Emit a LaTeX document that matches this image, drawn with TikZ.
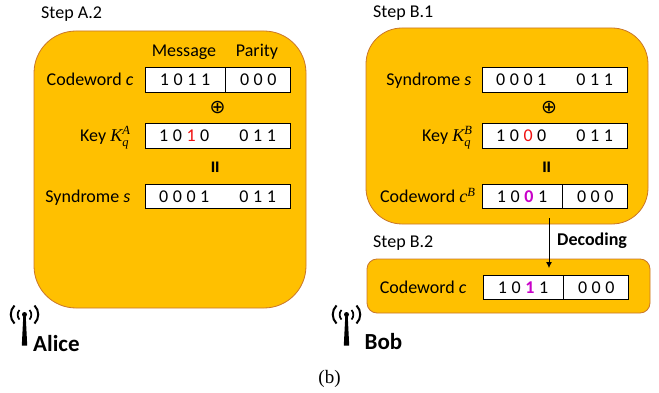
\documentclass[tikz,border=0pt]{standalone}
\usepackage{fontspec}
\setmainfont{Carlito}
\newfontfamily\capfont{Liberation Serif}
\newfontfamily\symfont{DejaVu Sans}
\newfontfamily\bitfam[WordSpace=1.13]{Carlito}
\usetikzlibrary{positioning,arrows.meta}
\definecolor{panelfill}{HTML}{FFC000}
\definecolor{paneledge}{HTML}{C9762A}
\definecolor{flipred}{HTML}{F01010}
\definecolor{flipmag}{HTML}{C800C8}
\tikzset{
	txt/.style={inner sep=0pt, font=\fontsize{18}{20}\selectfont},
	panel/.style={draw=paneledge, fill=panelfill, thick, inner sep=0pt},
	cell/.style={inner sep=0pt, font=\bitfam\fontsize{18}{20}\selectfont, draw=black, fill=white, thick, minimum height=24.5pt},
	whole/.style={cell, minimum width=145pt},
	msg/.style={cell, minimum width=80pt},
	parity/.style={cell, minimum width=65pt},
	xorsign/.style={inner sep=0pt, font=\symfont\fontsize{19}{20}\selectfont},
	eqsign/.style={inner sep=0pt, rotate=90, font=\fontsize{25}{26}\selectfont\bfseries},
	who/.style={inner sep=0pt, font=\fontsize{23}{26}\selectfont\bfseries},
	pics/antenna/.style={code={
		\fill (-2.7,0) -- (2.7,0) -- (1.2,-30) -- (-1.2,-30) -- cycle;
		\fill (0,-31) circle (2.5);
		\draw[line width=1.7pt] (-5,-35.5) .. controls (-7.5,-33) and (-7.5,-28.5) .. (-5,-26);
		\draw[line width=1.7pt] (5,-35.5) .. controls (7.5,-33) and (7.5,-28.5) .. (5,-26);
		\draw[line width=2pt] (-10,-40) .. controls (-15,-35) and (-15,-27) .. (-10,-22);
		\draw[line width=2pt] (10,-40) .. controls (15,-35) and (15,-27) .. (10,-22);
	}}
}
\newcommand{\gapbits}[2]{#1\hspace{30pt}#2}
\newcommand{\mi}[1]{\mbox{\capfont\itshape #1}}
\newcommand{\mis}[1]{\mbox{\capfont\itshape\fontsize{12.5}{13}\selectfont #1}}
\begin{document}
\begin{tikzpicture}[x=1pt, y=-1pt]
	\useasboundingbox (0,0) rectangle (659,393);

	% Alice
	\node [panel, rounded corners=42pt, minimum width=272pt, minimum height=277pt] (panelA) at (170,169.5) {};
	\node [txt, anchor=west] (stepA) at (41,14) {Step A.2};
	\node [txt] (headM) at (184,52) {Message};
	\node [txt] (headP) at (257,52) {Parity};
	\node [msg] (cm) at (185,80) {1 0 1 1};
	\node [parity, right=0pt of cm] (cp) {0 0 0};
	\node [xorsign] (xorA) at (217.5,108) {⊕};
	\node [whole] (kA) at (217.5,136) {\gapbits{1 0 \textcolor{flipred}{1} 0}{0 1 1}};
	\node [eqsign] (eqA) at (217.5,167) {=};
	\node [whole] (sA) at (217.5,196.5) {\gapbits{0 0 0 1}{0 1 1}};
	\node [txt, anchor=base east] (lcA) at ([xshift=-11pt]cm.base west) {Codeword \textit{c}};
	\node [txt, anchor=base east] (lkA) at ([xshift=-14pt]kA.base west) {Key $\mi{K}_{\mis{q}}^{\mis{A}}$};
	\node [txt, anchor=base east] (lsA) at ([xshift=-14pt]sA.base west) {Syndrome \textit{s}};

	% Bob
	\node [panel, rounded corners=36pt, minimum width=282pt, minimum height=196pt] (panelB) at (507,126) {};
	\node [txt, anchor=west] (stepB) at (373,13) {Step B.1};
	\node [whole] (sB) at (554.5,80) {\gapbits{0 0 0 1}{0 1 1}};
	\node [xorsign] (xorB) at (549,108) {⊕};
	\node [whole] (kB) at (554.5,136) {\gapbits{1 0 \textcolor{flipred}{0} 0}{0 1 1}};
	\node [eqsign] (eqB) at (549,167) {=};
	\node [msg] (cbm) at (522,196.5) {1 0 \textcolor{flipmag}{\textbf{0}} 1};
	\node [parity, right=0pt of cbm] (cbp) {0 0 0};
	\node [txt, anchor=base east] (lsB) at ([xshift=-10pt]sB.base west) {Syndrome \textit{s}};
	\node [txt, anchor=base east] (lkB) at ([xshift=-9pt]kB.base west) {Key $\mi{K}_{\mis{q}}^{\mis{B}}$};
	\node [txt, anchor=base east] (lcB) at ([xshift=-6pt]cbm.base west) {Codeword $\mi{c}^{\mis{B}}$};

	\node [panel, rounded corners=10pt, minimum width=283pt, minimum height=54pt] (panelC) at (508.5,286) {};
	\node [txt, anchor=west] (stepC) at (373,243) {Step B.2};
	\node [msg] (cm2) at (523,287.5) {1 0 \textcolor{flipmag}{\textbf{1}} 1};
	\node [parity, right=0pt of cm2] (cp2) {0 0 0};
	\node [txt, anchor=base east] (lcC) at ([xshift=-16pt]cm2.base west) {Codeword \textit{c}};

	\coordinate (decA) at (549,218);
	\coordinate (decB) at (549,268);
	\draw [-{Latex[length=6pt,width=6pt]}, thick] (decA) -- (decB);
	\node [txt, font=\fontsize{18}{20}\selectfont\bfseries, anchor=west] (dec) at (557,241) {Decoding};

	\pic at (24.5,345.5) {antenna};
	\pic at (346.5,345.5) {antenna};
	\node [who, anchor=west] (alice) at (33,344) {Alice};
	\node [who, anchor=west] (bob) at (364.5,342) {Bob};

	\node [inner sep=0pt, font=\capfont\fontsize{19}{20}\selectfont] (cap) at (329.5,379) {(b)};
\end{tikzpicture}
\end{document}
